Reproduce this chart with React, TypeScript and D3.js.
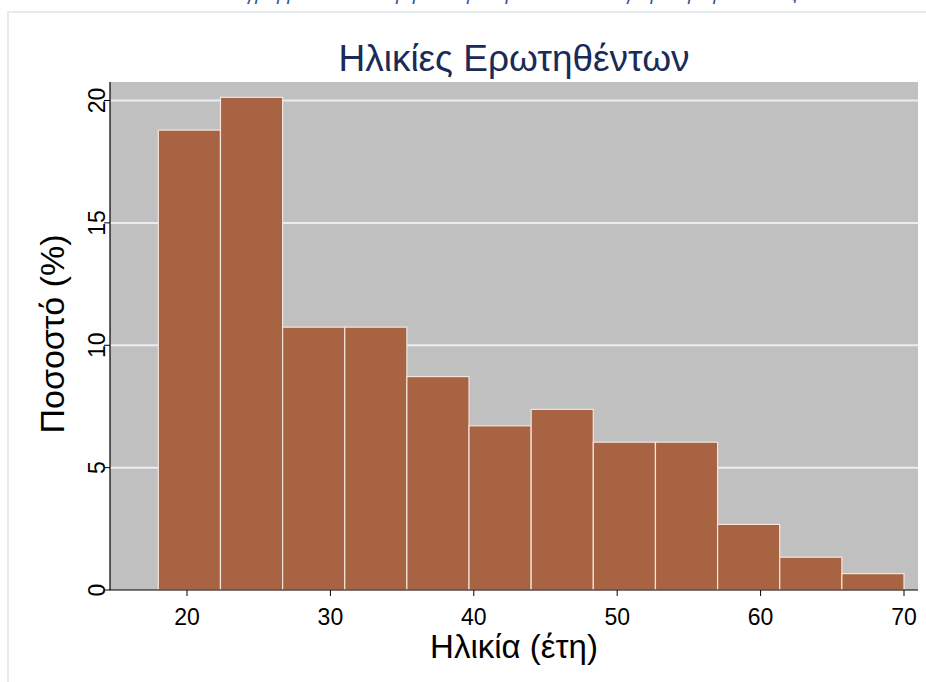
import React from "react";
import * as d3 from "d3";

const binStart = 18;
const binWidth = 52 / 12;
const percents = [18.79, 20.13, 10.74, 10.74, 8.72, 6.71, 7.38, 6.04, 6.04, 2.68, 1.34, 0.67];
const xTicks = [20, 30, 40, 50, 60, 70];
const yTicks = [0, 5, 10, 15, 20];
const title = "Ηλικίες Ερωτηθέντων";
const xLabel = "Ηλικία (έτη)";
const yLabel = "Ποσοστό (%)";
const caption = "Διάγραμμα 1: Κατανομή των ερωτηθέντων ανάλογα με την ηλικία τους";

const W = 926;
const H = 682;
const plotL = 110;
const plotR = 918;
const plotT = 82;
const plotB = 590;

export default function App() {
  const x = d3.scaleLinear().domain([20, 70]).range([187, 904]);
  const y = d3.scaleLinear().domain([0, 20]).range([plotB, 100.5]);
  const font = "'Liberation Sans', Arial, Helvetica, sans-serif";
  const bars = percents.map((v, i) => ({
    x0: binStart + i * binWidth,
    x1: binStart + (i + 1) * binWidth,
    v,
  }));
  return (
    <div style={{ position: "absolute", left: 0, top: 0 }}>
      <svg width={W} height={H} style={{ display: "block" }} fontFamily={font}>
        <rect x={0} y={0} width={W} height={H} fill="#ffffff" />
        <text
          x={508}
          y={-0.5}
          textAnchor="middle"
          fontSize={19}
          fontStyle="italic"
          fill="#2f5597"
        >
          {caption}
        </text>
        <rect x={8} y={12} width={W + 20} height={H + 20} fill="#ffffff" stroke="#e4eaee" strokeWidth={2} />
        <rect x={plotL} y={plotT} width={plotR - plotL} height={plotB - plotT} fill="#c0c0c0" />
        {yTicks.filter((t) => t > 0).map((t) => (
          <line key={"g" + t} x1={plotL} x2={plotR} y1={y(t)} y2={y(t)} stroke="#e8eef1" strokeWidth={2} />
        ))}
        {bars.map((b, i) => (
          <rect
            key={i}
            x={x(b.x0)}
            y={y(b.v)}
            width={x(b.x1) - x(b.x0)}
            height={plotB - y(b.v)}
            fill="#a86442"
            stroke="#f3e4dc"
            strokeWidth={1.2}
          />
        ))}
        <line x1={plotL} x2={plotL} y1={plotT} y2={plotB} stroke="#000" strokeWidth={1.2} />
        <line x1={plotL - 0.5} x2={plotR} y1={plotB} y2={plotB} stroke="#000" strokeWidth={1.2} />
        {yTicks.map((t) => (
          <g key={"y" + t}>
            <line x1={plotL - 6} x2={plotL} y1={y(t)} y2={y(t)} stroke="#000" strokeWidth={1} />
            <text
              transform={`translate(${plotL - 5},${y(t)}) rotate(-90)`}
              textAnchor="middle"
              fontSize={23}
              fill="#000"
            >
              {t}
            </text>
          </g>
        ))}
        {xTicks.map((t) => (
          <g key={"x" + t}>
            <line x1={x(t)} x2={x(t)} y1={plotB} y2={plotB + 6} stroke="#000" strokeWidth={1} />
            <text x={x(t)} y={625} textAnchor="middle" fontSize={23} fill="#000">
              {t}
            </text>
          </g>
        ))}
        <text x={514} y={71} textAnchor="middle" fontSize={37} fill="#1a2b57">
          {title}
        </text>
        <text x={514} y={658} textAnchor="middle" fontSize={33} fill="#000">
          {xLabel}
        </text>
        <text
          transform={`translate(64,334) rotate(-90)`}
          textAnchor="middle"
          fontSize={34}
          fill="#000"
        >
          {yLabel}
        </text>
      </svg>
    </div>
  );
}
